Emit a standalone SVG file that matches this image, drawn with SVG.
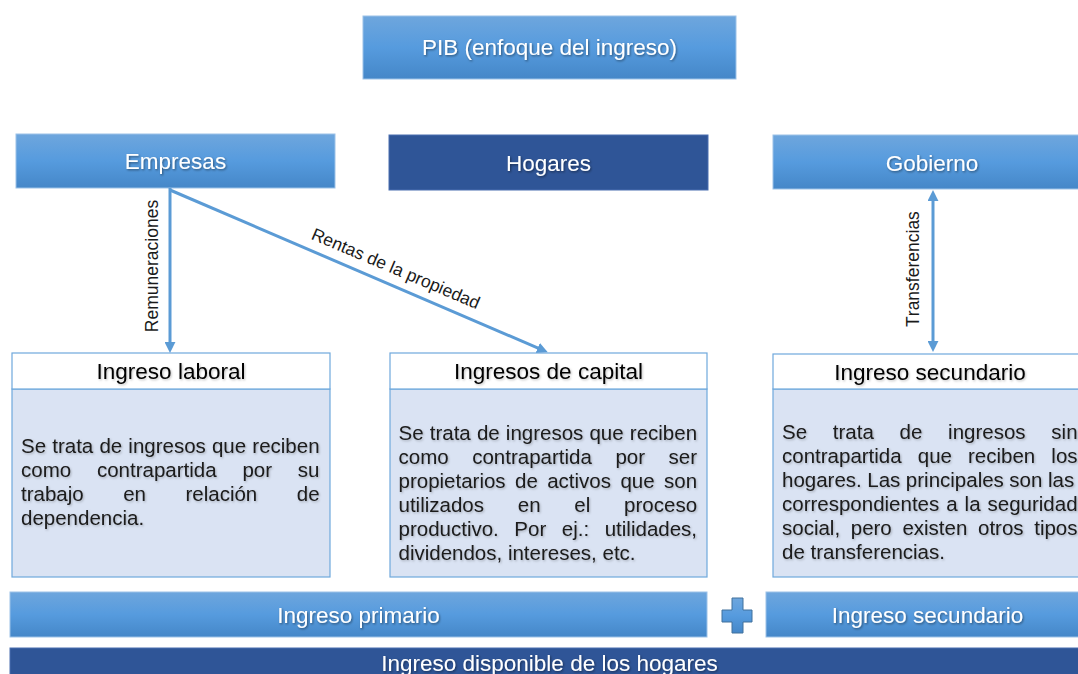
<svg xmlns="http://www.w3.org/2000/svg" width="1078" height="674" viewBox="0 0 1078 674">
<defs>
<linearGradient id="blueGrad" x1="0" y1="0" x2="0" y2="1">
<stop offset="0" stop-color="#6EA6DD"/>
<stop offset="0.5" stop-color="#569BDE"/>
<stop offset="1" stop-color="#4587C8"/>
</linearGradient>
<filter id="shadowW" x="-10%" y="-30%" width="120%" height="160%">
<feDropShadow dx="1" dy="1.2" stdDeviation="0.8" flood-color="#000" flood-opacity="0.45"/>
</filter>
<filter id="shadowK" x="-10%" y="-30%" width="120%" height="160%">
<feDropShadow dx="1" dy="1.2" stdDeviation="0.8" flood-color="#000" flood-opacity="0.25"/>
</filter>
<marker id="arrow" viewBox="0 0 10 10" refX="1" refY="5" markerWidth="11" markerHeight="11" markerUnits="userSpaceOnUse" orient="auto-start-reverse">
<path d="M0,0 L10,5 L0,10 z" fill="#5B9BD5"/>
</marker>
</defs>
<style>
text { font-family: "Liberation Sans", Arial, sans-serif; font-kerning: none; }
.gbox { fill: url(#blueGrad); stroke: #9CC2E8; stroke-width: 1; }
.dbox { fill: #2F5597; stroke: #4A6FB0; stroke-width: 1; }
.hdr { fill: #FFFFFF; stroke: #6FA8DC; stroke-width: 1.2; }
.body { fill: #DAE3F3; stroke: #6FA8DC; stroke-width: 1.2; }
.wt { fill: #FFFFFF; font-size: 22.5px; text-anchor: middle; filter: url(#shadowW); }
.kt { fill: #000000; font-size: 22.5px; text-anchor: middle; filter: url(#shadowK); }
.bt { fill: #1A1A1A; font-size: 20.5px; filter: url(#shadowK); }
.lbl { fill: #1A1A1A; font-size: 17.5px; text-anchor: middle; }
.conn { stroke: #5B9BD5; stroke-width: 3; fill: none; }
</style>

<g id="pib">
<rect class="gbox" x="363" y="16" width="373" height="63"/>
<text class="wt" x="549.5" y="55">PIB (enfoque del ingreso)</text>
</g>

<g id="empresas">
<rect class="gbox" x="16" y="134" width="319" height="54"/>
<text class="wt" x="175.5" y="169">Empresas</text>
</g>

<g id="hogares">
<rect class="dbox" x="389" y="135" width="319" height="55"/>
<text class="wt" x="548.5" y="171">Hogares</text>
</g>

<g id="gobierno">
<rect class="gbox" x="773" y="135" width="318" height="54"/>
<text class="wt" x="932" y="171">Gobierno</text>
</g>

<g id="connectors">
<line class="conn" x1="170" y1="188" x2="170" y2="343" marker-end="url(#arrow)"/>
<line class="conn" x1="170" y1="190" x2="538.7" y2="348.4" marker-end="url(#arrow)"/>
<line class="conn" x1="933" y1="200" x2="933" y2="342" marker-start="url(#arrow)" marker-end="url(#arrow)"/>
<text class="lbl" transform="translate(158,266) rotate(-90)">Remuneraciones</text>
<text class="lbl" transform="translate(393.5,274) rotate(23)">Rentas de la propiedad</text>
<text class="lbl" transform="translate(919,269) rotate(-90)">Transferencias</text>
</g>

<g id="ingreso-laboral">
<rect class="body" x="12" y="389" width="318" height="188"/>
<rect class="hdr" x="12" y="353" width="318" height="36"/>
<text class="kt" x="171" y="379">Ingreso laboral</text>
<text class="bt" x="21" y="453" word-spacing="0.45">Se trata de ingresos que reciben</text>
<text class="bt" x="21" y="477" word-spacing="20.1">como contrapartida por su</text>
<text class="bt" x="21" y="501" word-spacing="33.8">trabajo en relación de</text>
<text class="bt" x="21" y="525">dependencia.</text>
</g>

<g id="ingresos-capital">
<rect class="body" x="390" y="389" width="317" height="188"/>
<rect class="hdr" x="390" y="353" width="317" height="36"/>
<text class="kt" x="548.5" y="379">Ingresos de capital</text>
<text class="bt" x="398.5" y="440" word-spacing="0.45">Se trata de ingresos que reciben</text>
<text class="bt" x="398.5" y="464" word-spacing="17.85">como contrapartida por ser</text>
<text class="bt" x="398.5" y="488" word-spacing="3.7">propietarios de activos que son</text>
<text class="bt" x="398.5" y="512" word-spacing="28.1">utilizados en el proceso</text>
<text class="bt" x="398.5" y="536" word-spacing="9.87">productivo. Por ej.: utilidades,</text>
<text class="bt" x="398.5" y="560">dividendos, intereses, etc.</text>
</g>

<g id="ingreso-secundario">
<rect class="body" x="773" y="389" width="318" height="188"/>
<rect class="hdr" x="773" y="354" width="318" height="35"/>
<text class="kt" x="930" y="380">Ingreso secundario</text>
<text class="bt" x="782" y="439" word-spacing="20.04">Se trata de ingresos sin</text>
<text class="bt" x="782" y="463" word-spacing="10.38">contrapartida que reciben los</text>
<text class="bt" x="782" y="487" word-spacing="-0.18">hogares. Las principales son las</text>
<text class="bt" x="782" y="511" word-spacing="1.27">correspondientes a la seguridad</text>
<text class="bt" x="782" y="535" word-spacing="4.94">social, pero existen otros tipos</text>
<text class="bt" x="782" y="559">de transferencias.</text>
</g>

<g id="ingreso-primario">
<rect class="gbox" x="10" y="592" width="697" height="45"/>
<text class="wt" x="358.5" y="623">Ingreso primario</text>
</g>

<g id="plus">
<path d="M732,598 H743 V610 H752 V622 H743 V633 H732 V622 H722 V610 H732 Z" fill="url(#blueGrad)" stroke="#41719C" stroke-width="1"/>
</g>

<g id="ingreso-secundario-bar">
<rect class="gbox" x="766" y="592" width="323" height="45"/>
<text class="wt" x="927.5" y="623">Ingreso secundario</text>
</g>

<g id="ingreso-disponible">
<rect class="dbox" x="10" y="648" width="1080" height="40"/>
<text class="wt" x="549.5" y="671">Ingreso disponible de los hogares</text>
</g>
</svg>
